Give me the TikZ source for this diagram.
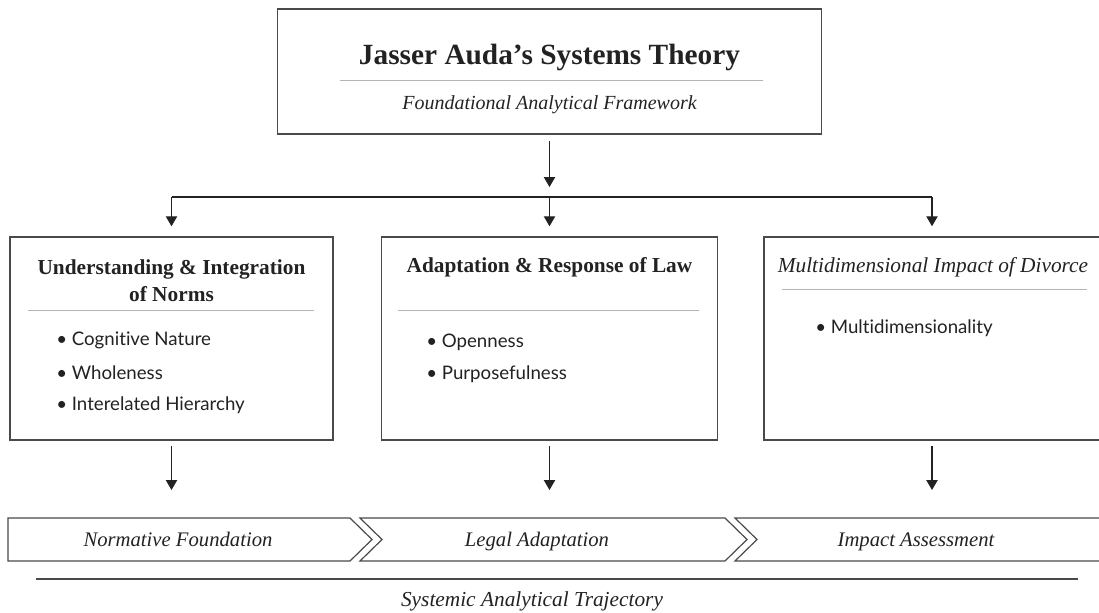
\documentclass[tikz,border=0pt]{standalone}
\usepackage{fontspec}
\setmainfont{Liberation Serif}
\newfontfamily\itemfont[Ligatures = NoCommon]{Lato}
\usetikzlibrary{arrows.meta,positioning}
\definecolor{ink}{HTML}{222222}
\definecolor{boxgray}{HTML}{4A4A4A}
\definecolor{rulegray}{HTML}{B4B4B4}

\begin{document}
\begin{tikzpicture}[x=0.75pt, y=-0.75pt]
%\draw[very thin, color = gray](0, 0) grid[step=100] (1099, 612);
\tikzstyle{box} = [draw = boxgray, line width = 1.1pt, rectangle, inner sep = 0pt];
\tikzstyle{title} = [text = ink, font = \fontsize{22}{26}\selectfont\bfseries];
\tikzstyle{sub} = [text = ink, font = \fontsize{15}{18}\selectfont\itshape];
\tikzstyle{head} = [text = ink, align = center, font = \fontsize{16}{20.3}\selectfont\bfseries];
\tikzstyle{headit} = [text = ink, align = center, font = \fontsize{16}{20.3}\selectfont\itshape];
\tikzstyle{item} = [text = ink, anchor = west, inner sep = 0pt, font = \itemfont\fontsize{14}{17}\selectfont];
\tikzstyle{stage} = [text = ink, anchor = base, font = \fontsize{15.5}{18}\selectfont\itshape];
\tikzstyle{sep} = [draw = rulegray, line width = 0.7pt];
\tikzstyle{chev} = [draw = boxgray, line width = 0.9pt];
\tikzstyle{conn} = [draw = ink, line width = 0.9pt];
\tikzstyle{line} = [draw = ink, line width = 0.9pt, -{Triangle[width = 8.5pt, length = 7.5pt]}]
\useasboundingbox (0, 0) rectangle (1099, 612);
\clip (0, 0) rectangle (1099, 612);
% top block
\node [box, minimum width = 408pt, minimum height = 93.75pt] at (549.5, 71.5) (theory) {};
\node [title] at (549.5, 57) (theorytitle) {Jasser Auda’s Systems Theory};
\draw [sep] (340, 80) -- (763, 80);
\node [sub] at (549.5, 105) (theorysub) {Foundational Analytical Framework};
% three columns
\node [box, minimum width = 242.25pt, minimum height = 152.25pt] at (171.5, 338.5) (norms) {};
\node [box, minimum width = 252pt, minimum height = 152.25pt] at (549.5, 338.5) (law) {};
\node [box, minimum width = 252pt, minimum height = 152.25pt] at (932, 338.5) (impact) {};
\node [head] at (171.5, 280.5) (normshead) {Understanding \& Integration\\ of Norms};
\node [head] at (549.5, 267) (lawhead) {Adaptation \& Response of Law};
\node [headit] at (933, 267) (impacthead) {Multidimensional Impact of Divorce};
\draw [sep] (28, 310) -- (314, 310);
\draw [sep] (398, 310) -- (699, 310);
\draw [sep] (782, 289) -- (1087, 289);
\node [item] at (56, 340) (cognitive) {• Cognitive Nature};
\node [item] at (56, 372.5) (wholeness) {• Wholeness};
\node [item] at (56, 405) (hierarchy) {• Interelated Hierarchy};
\node [item] at (426, 342) (openness) {• Openness};
\node [item] at (426, 374.5) (purpose) {• Purposefulness};
\node [item] at (815, 328) (multidim) {• Multidimensionality};
% split arrows
\coordinate (split) at (549.5, 197);
\coordinate (leftdrop) at (171.5, 197);
\coordinate (rightdrop) at (932, 197);
\path [line] ([yshift = -5pt]theory.south) -- ([yshift = 7.5pt]split);
\path [conn] (leftdrop) -- (rightdrop);
\path [line] (leftdrop) -- ([yshift = 7.5pt]norms.north);
\path [line] (split) -- ([yshift = 7.5pt]law.north);
\path [line] (rightdrop) -- ([yshift = 7.5pt]impact.north);
% trajectory
\draw [chev] (8, 518) -- (350, 518) -- (372, 539.5) -- (350, 561) -- (8, 561) -- cycle;
\draw [chev] (360, 518) -- (725, 518) -- (747, 539.5) -- (725, 561) -- (360, 561) -- (382, 539.5) -- cycle;
\draw [chev] (735, 518) -- (1108, 518) -- (1130, 539.5) -- (1108, 561) -- (735, 561) -- (757, 539.5) -- cycle;
\coordinate (normtop) at (171.5, 518);
\coordinate (lawtop) at (549.5, 518);
\coordinate (impacttop) at (932, 518);
\node [stage] at (178, 546) (normative) {Normative Foundation};
\node [stage] at (537, 546) (legal) {Legal Adaptation};
\node [stage] at (916, 546) (assessment) {Impact Assessment};
\path [line] ([yshift = -4pt]norms.south) -- ([yshift = 21pt]normtop);
\path [line] ([yshift = -4pt]law.south) -- ([yshift = 21pt]lawtop);
\path [line] ([yshift = -4pt]impact.south) -- ([yshift = 21pt]impacttop);
\coordinate (trackl) at (36, 579);
\coordinate (trackr) at (1078, 579);
\path [draw = boxgray, line width = 1.1pt] (trackl) -- (trackr);
\node [sub, font = \fontsize{16}{19}\selectfont\itshape] at (532, 601) (trajectory) {Systemic Analytical Trajectory};
\end{tikzpicture}
\end{document}
